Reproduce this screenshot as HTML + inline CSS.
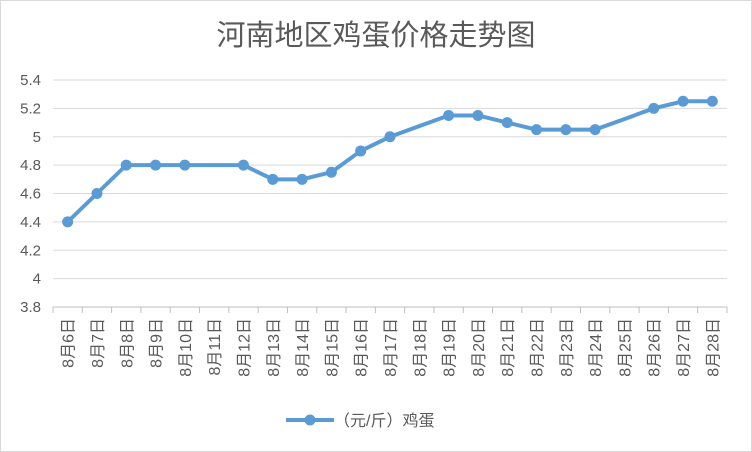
<!DOCTYPE html>
<html><head><meta charset="utf-8"><style>
body{margin:0;background:#fff}
svg{display:block;font-family:"Liberation Sans","Noto Sans CJK SC",sans-serif}
</style></head><body>
<svg width="752" height="452">
<rect x="0.5" y="0.5" width="751" height="451" fill="#fff" stroke="#d9d9d9"/>
<text x="376" y="45" text-anchor="middle" font-size="29" fill="#595959">河南地区鸡蛋价格走势图</text>
<g id="grid"></g><g id="xaxis"></g><g id="series"></g>
<g>
<line x1="286" y1="420" x2="334" y2="420" stroke="#5b9bd5" stroke-width="4"/>
<circle cx="310" cy="420" r="5.5" fill="#5b9bd5"/>
<text x="334" y="426" font-size="16" fill="#595959">（元/斤）鸡蛋</text>
</g>
</svg>
<script>
const categories=["8月6日","8月7日","8月8日","8月9日","8月10日","8月11日","8月12日","8月13日","8月14日","8月15日","8月16日","8月17日","8月18日","8月19日","8月20日","8月21日","8月22日","8月23日","8月24日","8月25日","8月26日","8月27日","8月28日"];
const prices=[4.4,4.6,4.8,4.8,4.8,null,4.8,4.7,4.7,4.75,4.9,5.0,null,5.15,5.15,5.1,5.05,5.05,5.05,null,5.2,5.25,5.25];
const yTicks=[3.8,4,4.2,4.4,4.6,4.8,5,5.2,5.4];
const yTickLabels=["3.8","4","4.2","4.4","4.6","4.8","5","5.2","5.4"];
const NS="http://www.w3.org/2000/svg";
const X0=53,X1=727,Y0=307,Y1=80,YMIN=3.8,YMAX=5.4;
const step=(X1-X0)/categories.length;
const xs=i=>X0+step*(i+0.5);
const ys=v=>Y0-(v-YMIN)/(YMAX-YMIN)*(Y0-Y1);
function mk(t,a,p){const e=document.createElementNS(NS,t);for(const k in a)e.setAttribute(k,a[k]);p.appendChild(e);return e;}
const grid=document.getElementById('grid');
yTicks.forEach((v,i)=>{
  const l=mk('line',{x1:X0,x2:X1,y1:ys(v),y2:ys(v),stroke:v===YMIN?'#bfbfbf':'#d9d9d9'},grid);
  
  
  const t=mk('text',{x:41,y:ys(v)+5,'text-anchor':'end','font-size':15,fill:'#595959'},grid);
  t.textContent=yTickLabels[i];
  
  
});
const xa=document.getElementById('xaxis');
for(let i=0;i<=categories.length;i++){
  const x=X0+step*i;
  const tk=mk('line',{x1:x,x2:x,y1:Y0,y2:Y0+6,stroke:'#bfbfbf'},xa);
  
  
}
categories.forEach((c,i)=>{
  const x=xs(i)+6,y=318;
  const t=mk('text',{x:x,y:y,transform:`rotate(-90 ${x} ${y})`,'text-anchor':'end','font-size':16,fill:'#595959'},xa);
  t.textContent=c;
  
  
});
const s=document.getElementById('series');
const pts=[];prices.forEach((v,i)=>{if(v!==null)pts.push([xs(i),ys(v)]);});
const pl=mk('polyline',{points:pts.map(p=>p.join(',')).join(' '),fill:'none',stroke:'#5b9bd5','stroke-width':4,'stroke-linejoin':'round','stroke-linecap':'round'},s);


pts.forEach(p=>{
  const c=mk('circle',{cx:p[0],cy:p[1],r:5.5,fill:'#5b9bd5'},s);
  
  
});
</script>
</body></html>
